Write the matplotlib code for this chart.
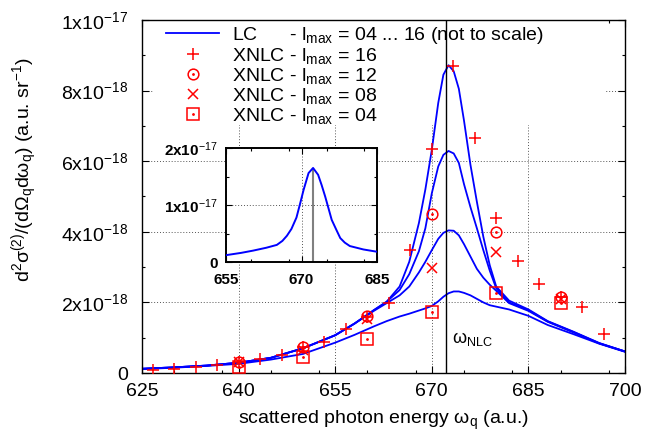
import numpy as np
import matplotlib
matplotlib.use("Agg")
import matplotlib.pyplot as plt
from matplotlib.lines import Line2D
from matplotlib.patches import Rectangle
from matplotlib.legend_handler import HandlerTuple
from matplotlib.ticker import MultipleLocator

plt.rcParams['font.family'] = ['Liberation Sans', 'DejaVu Sans']
plt.rcParams['mathtext.fontset'] = 'custom'
plt.rcParams['mathtext.rm'] = 'Liberation Sans'
plt.rcParams['mathtext.it'] = 'Liberation Sans:italic'
plt.rcParams['mathtext.bf'] = 'Liberation Sans:bold'

# ---- LC spectra (units of 1e-18 a.u.) ----
energy_lc = [625, 630, 635, 640, 645, 650, 655, 658, 661, 663, 665, 666.5, 668, 669,
             670, 671, 671.8, 672.6, 673.4, 674.2, 675, 676, 677, 678, 679, 680,
             682, 685, 688, 692, 696, 700]
lc_16 = [0.12, 0.16, 0.21, 0.29, 0.43, 0.70, 1.07, 1.40, 1.78, 2.02, 2.45, 3.15, 4.25, 5.20,
         6.32, 7.65, 8.45, 8.72, 8.55, 8.05, 7.15, 5.90, 4.85, 3.86, 3.05, 2.45,
         2.05, 1.80, 1.47, 1.17, 0.85, 0.61]
lc_12 = [0.12, 0.16, 0.21, 0.29, 0.43, 0.70, 1.07, 1.40, 1.78, 2.02, 2.35, 2.80, 3.45, 4.10,
         5.09, 5.85, 6.18, 6.29, 6.22, 5.95, 5.35, 4.70, 4.10, 3.48, 2.90, 2.40,
         2.00, 1.78, 1.46, 1.16, 0.84, 0.61]
lc_08 = [0.12, 0.16, 0.21, 0.29, 0.43, 0.70, 1.07, 1.40, 1.76, 1.98, 2.20, 2.45, 2.85, 3.15,
         3.48, 3.80, 3.97, 4.04, 4.03, 3.90, 3.65, 3.30, 2.95, 2.70, 2.50, 2.33,
         1.98, 1.76, 1.45, 1.15, 0.84, 0.61]
lc_04 = [0.11, 0.15, 0.20, 0.26, 0.38, 0.54, 0.86, 1.08, 1.32, 1.47, 1.60, 1.68, 1.77, 1.83,
         1.90, 2.03, 2.16, 2.26, 2.31, 2.31, 2.27, 2.20, 2.10, 2.00, 1.92, 1.88,
         1.80, 1.62, 1.36, 1.10, 0.83, 0.60]

# ---- XNLC points ----
energy_x16 = [626.67, 630, 633.33, 636.67, 640, 643.33, 646.67, 650, 653.33, 656.67, 660,
              663.33, 666.67, 670, 673.33, 676.67, 680, 683.33, 686.67, 690, 693.33, 696.67]
xnlc_16 = [0.09, 0.10, 0.16, 0.23, 0.32, 0.39, 0.51, 0.73, 0.89, 1.25, 1.58,
           1.99, 3.48, 6.35, 8.70, 6.67, 4.39, 3.18, 2.52, 2.16, 1.86, 1.10]
energy_x = [640, 650, 660, 670, 680, 690]
xnlc_12 = [0.32, 0.75, 1.61, 4.50, 4.00, 2.16]
xnlc_08 = [0.30, 0.65, 1.52, 2.97, 3.44, 2.10]
xnlc_04 = [0.18, 0.44, 0.96, 1.73, 2.27, 1.97]

omega_nlc = 672.2

# ---- inset: LC spectrum (units of 1e-17 a.u.) ----
energy_inset = [655, 658, 660.4, 663, 665.1, 666.2, 667.1, 668, 669, 669.8, 670.4, 671.4,
                672.3, 673.3, 674, 674.7, 675.4, 676, 677, 677.7, 678.6, 679.6, 682.3, 685]
inset_lc = [0.12, 0.16, 0.20, 0.25, 0.30, 0.37, 0.46, 0.58, 0.78, 1.05, 1.26, 1.56,
            1.65, 1.53, 1.35, 1.15, 0.93, 0.74, 0.55, 0.42, 0.34, 0.28, 0.22, 0.18]

x_ticks = [625, 640, 655, 670, 685, 700]
y_ticks = [0, 2, 4, 6, 8, 10]
y_ticklabels = ['0', '2x10$^{-18}$', '4x10$^{-18}$', '6x10$^{-18}$', '8x10$^{-18}$', '1x10$^{-17}$']
inset_xticks = [655, 670, 685]
inset_yticks = [0, 1, 2]
inset_yticklabels = ['0', '1x10$^{-17}$', '2x10$^{-17}$']

blue = '#0000ff'
red = '#ff0000'
fs = 14

fig = plt.figure(figsize=(6.47, 4.33), dpi=100)
ax = fig.add_axes([142 / 647, 60 / 433, 483 / 647, 353 / 433])

for curve in [lc_16, lc_12, lc_08, lc_04]:
    ax.plot(energy_lc, curve, color=blue, lw=1.3, zorder=2)
ax.axvline(omega_nlc, color='black', lw=1.0, zorder=2)

mk = dict(linestyle='none', color=red, markerfacecolor='none', mew=1.1, zorder=3)
dot = dict(linestyle='none', color=red, marker='.', markersize=2, zorder=3)
h16, = ax.plot(energy_x16, xnlc_16, marker='+', markersize=8.5, **mk)
h12, = ax.plot(energy_x, xnlc_12, marker='o', markersize=7.7, **mk)
d12, = ax.plot(energy_x, xnlc_12, **dot)
h08, = ax.plot(energy_x, xnlc_08, marker='x', markersize=7.7, **mk)
h04, = ax.plot(energy_x, xnlc_04, marker='s', markersize=8.0, **mk)
d04, = ax.plot(energy_x, xnlc_04, **dot)

ax.text(omega_nlc + 0.9, 0.85, r'ω$_{\mathrm{NLC}}$', fontsize=13, va='baseline', zorder=3)

ax.set_xlim(625, 700)
ax.set_ylim(0, 10)
ax.set_xticks(x_ticks)
ax.set_yticks(y_ticks)
ax.set_yticklabels(y_ticklabels)
ax.xaxis.set_minor_locator(MultipleLocator(7.5))
ax.yaxis.set_minor_locator(MultipleLocator(1))
ax.tick_params(which='both', direction='in', top=True, right=True, labelsize=fs, width=0.8)
ax.tick_params(which='major', length=5)
ax.tick_params(axis='x', which='major', pad=7)
ax.tick_params(axis='y', which='major', pad=10)
ax.tick_params(which='minor', length=2.5)
ax.grid(True, which='major', linestyle=(0, (1, 2)), color='#555555', lw=0.7)
ax.set_axisbelow(True)
for s in ax.spines.values():
    s.set_linewidth(1.0)

ax.set_xlabel(r'scattered photon energy ω$_{\mathrm{q}}$ (a.u.)', fontsize=fs, va='top')
ax.xaxis.set_label_coords(0.5, -0.1)
ax.set_ylabel(r'd$^{2}$σ$^{(2)}$/(dΩ$_{\mathrm{q}}$dω$_{\mathrm{q}}$) (a.u. sr$^{-1}$)', fontsize=fs)
ax.yaxis.set_label_coords(-0.211, 0.575)

# opaque key box (hides the grid, drawn below the curves)
ax.add_patch(Rectangle((0.025, 0.7025), 0.935, 0.2975, transform=ax.transAxes,
                       facecolor='white', edgecolor='none', zorder=1))

lc_handle = Line2D([], [], color=blue, lw=1.3)
leg = ax.legend([lc_handle, h16, (h12, d12), h08, (h04, d04)],
                [r'LC      - l$_{\mathrm{max}}$ = 04 ... 16 (not to scale)',
                 r'XNLC - l$_{\mathrm{max}}$ = 16',
                 r'XNLC - l$_{\mathrm{max}}$ = 12',
                 r'XNLC - l$_{\mathrm{max}}$ = 08',
                 r'XNLC - l$_{\mathrm{max}}$ = 04'],
                handler_map={tuple: HandlerTuple(ndivide=1)},
                loc='upper left', bbox_to_anchor=(0.0497, 0.986), fontsize=fs,
                handlelength=2.73, handletextpad=0.67, labelspacing=0.0,
                borderpad=0.0, borderaxespad=0.0, frameon=False)
leg.set_zorder(1.5)

# inset
axin = fig.add_axes([226 / 647, 1 - 262 / 433, 151 / 647, 114 / 433])
axin.plot(energy_inset, inset_lc, color=blue, lw=1.4, zorder=3)
axin.vlines(omega_nlc, 0, max(inset_lc), color='#808080', lw=1.5, zorder=2)
axin.set_xlim(655, 685)
axin.set_ylim(0, 2)
axin.set_xticks(inset_xticks)
axin.set_yticks(inset_yticks)
axin.set_yticklabels(inset_yticklabels)
axin.xaxis.set_minor_locator(MultipleLocator(7.5))
axin.yaxis.set_minor_locator(MultipleLocator(0.5))
axin.tick_params(which='both', direction='in', top=True, right=True, labelsize=11, width=0.8)
axin.tick_params(which='major', length=4)
axin.tick_params(axis='x', which='major', pad=8)
axin.tick_params(axis='y', which='major', pad=6)
axin.tick_params(which='minor', length=2)
for lab in axin.get_xticklabels() + axin.get_yticklabels():
    lab.set_fontweight('bold')
axin.grid(True, which='major', linestyle=(0, (1, 2)), color='#555555', lw=0.7)
axin.set_axisbelow(True)
for s in axin.spines.values():
    s.set_linewidth(1.4)

fig.savefig('out.png', dpi=100)
